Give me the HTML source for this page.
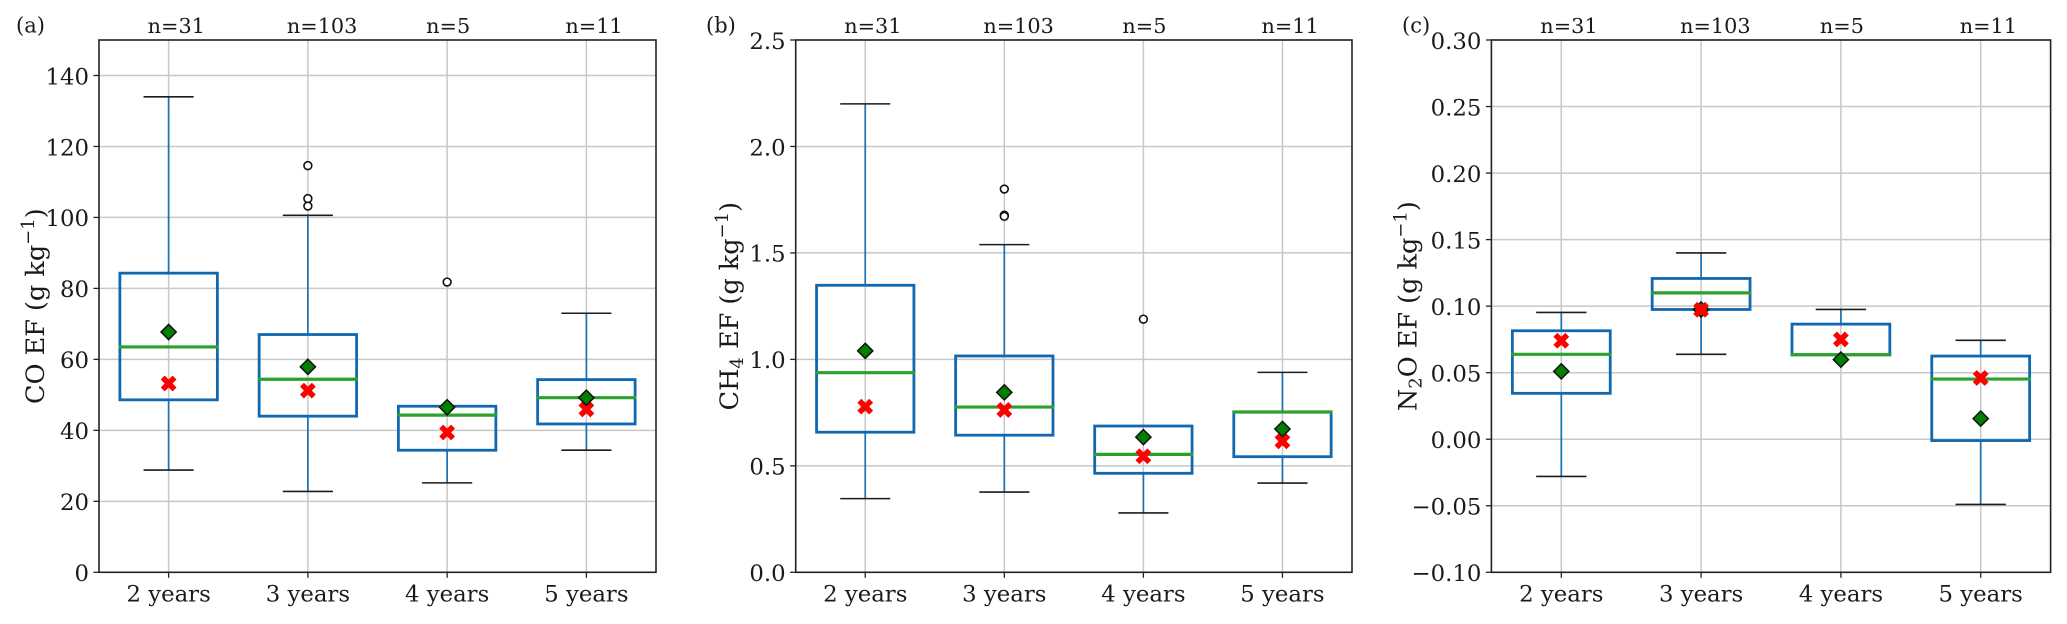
<!DOCTYPE html>
<html lang="en">
<head>
<meta charset="utf-8">
<title>CO, CH4 and N2O emission factors by fire return interval</title>
<style>
html,body{margin:0;padding:0;background:#fff;}
#figure{display:block;width:2067px;height:624px;}
text{font-family:"DejaVu Serif","Liberation Serif",serif;fill:#1a1a1a;}
</style>
</head>
<body>
<svg id="figure" xmlns="http://www.w3.org/2000/svg" width="2067" height="624" viewBox="0 0 2067 624"></svg>
<script>
const categories = ['2 years', '3 years', '4 years', '5 years'];
const sampleCounts = ['n=31', 'n=103', 'n=5', 'n=11'];

const coTicks = [0, 20, 40, 60, 80, 100, 120, 140];
const coTickLabels = ['0', '20', '40', '60', '80', '100', '120', '140'];
const coCapHigh = [134, 100.6, 46.7, 73.0];
const coQ3 = [84.3, 67.0, 46.8, 54.3];
const coMedian = [63.5, 54.4, 44.3, 49.2];
const coQ1 = [48.6, 44.0, 34.4, 41.8];
const coCapLow = [28.8, 22.8, 25.2, 34.4];
const coDiamond = [67.7, 57.9, 46.5, 49.2];
const coCross = [53.2, 51.2, 39.4, 45.9];
const coOutliers = [[], [114.6, 105.3, 103.2], [81.8], []];

const ch4Ticks = [0, 0.5, 1, 1.5, 2, 2.5];
const ch4TickLabels = ['0.0', '0.5', '1.0', '1.5', '2.0', '2.5'];
const ch4CapHigh = [2.2, 1.539, 0.687, 0.939];
const ch4Q3 = [1.348, 1.016, 0.687, 0.753];
const ch4Median = [0.9375, 0.776, 0.554, 0.753];
const ch4Q1 = [0.658, 0.644, 0.465, 0.543];
const ch4CapLow = [0.346, 0.377, 0.279, 0.419];
const ch4Diamond = [1.04, 0.845, 0.635, 0.673];
const ch4Cross = [0.778, 0.7625, 0.545, 0.615];
const ch4Outliers = [[], [1.80, 1.677, 1.672], [1.189], []];

const n2oTicks = [-0.1, -0.05, 0, 0.05, 0.1, 0.15, 0.2, 0.25, 0.3];
const n2oTickLabels = ['\u22120.10', '\u22120.05', '0.00', '0.05', '0.10', '0.15', '0.20', '0.25', '0.30'];
const n2oCapHigh = [0.0953, 0.14, 0.0975, 0.0743];
const n2oQ3 = [0.0815, 0.1208, 0.0865, 0.0625];
const n2oMedian = [0.0638, 0.11, 0.0635, 0.0452];
const n2oQ1 = [0.0345, 0.0975, 0.0635, -0.001];
const n2oCapLow = [-0.028, 0.0638, 0.0635, -0.049];
const n2oDiamond = [0.051, 0.0975, 0.0598, 0.0155];
const n2oCross = [0.074, 0.0973, 0.075, 0.046];
const n2oOutliers = [[], [], [], []];

const NS = 'http://www.w3.org/2000/svg';
const svg = document.getElementById('figure');

function mk(tag, attrs, parent) {
  const el = document.createElementNS(NS, tag);
  for (const k in attrs) el.setAttribute(k, attrs[k]);
  parent.appendChild(el);
  return el;
}

function drawPanel(p) {
  const g = mk('g', {}, svg);
  
  

  const yAxis = v => p.bottom - (v - p.yMin) / (p.yMax - p.yMin) * (p.bottom - p.top);
  const xAxis = i => p.left + (i + 0.5) / categories.length * (p.right - p.left);

  /* grid */
  p.ticks.forEach((t, i) => {
    const el = mk('line', {x1: p.left, x2: p.right, y1: yAxis(t), y2: yAxis(t), stroke: '#c8c8c8', 'stroke-width': 1.5}, g);
    
    
  });
  categories.forEach((c, i) => {
    const el = mk('line', {x1: xAxis(i), x2: xAxis(i), y1: p.top, y2: p.bottom, stroke: '#c8c8c8', 'stroke-width': 1.5}, g);
    
    
  });

  /* boxes */
  categories.forEach((c, i) => {
    const slug = p.id + '-' + c.replace(' ', '-');
    const x = xAxis(i);
    const unit = (p.right - p.left) / categories.length;
    const boxW = unit * 0.7, capW = unit * 0.36;

    const wu = mk('line', {x1: x, x2: x, y1: yAxis(p.q3[i]), y2: yAxis(p.capHigh[i]), stroke: '#1a72b6', 'stroke-width': 1.7}, g);
    
    

    const wl = mk('line', {x1: x, x2: x, y1: yAxis(p.q1[i]), y2: yAxis(p.capLow[i]), stroke: '#1a72b6', 'stroke-width': 1.7}, g);
    
    

    const cu = mk('line', {x1: x - capW / 2, x2: x + capW / 2, y1: yAxis(p.capHigh[i]), y2: yAxis(p.capHigh[i]), stroke: '#1c1c1c', 'stroke-width': 1.6}, g);
    
    

    const cl = mk('line', {x1: x - capW / 2, x2: x + capW / 2, y1: yAxis(p.capLow[i]), y2: yAxis(p.capLow[i]), stroke: '#1c1c1c', 'stroke-width': 1.6}, g);
    
    

    const box = mk('rect', {x: x - boxW / 2, y: yAxis(p.q3[i]), width: boxW, height: yAxis(p.q1[i]) - yAxis(p.q3[i]), fill: 'none', stroke: '#1068b0', 'stroke-width': 2.8}, g);
    
    

    const med = mk('line', {x1: x - boxW / 2 - 1.4, x2: x + boxW / 2 + 1.4, y1: yAxis(p.median[i]), y2: yAxis(p.median[i]), stroke: '#2ca02c', 'stroke-width': 3.2}, g);
    
    

    p.outliers[i].forEach(v => {
      const o = mk('circle', {cx: x, cy: yAxis(v), r: 3.9, fill: '#fff', stroke: '#111', 'stroke-width': 1.6}, g);
      
      
    });

    const cy = yAxis(p.cross[i]), dy = yAxis(p.diamond[i]), s = 7.9, d = 7.6;
    const crossUnit = [[-1,-.5],[-.5,-1],[0,-.5],[.5,-1],[1,-.5],[.5,0],[1,.5],[.5,1],[0,.5],[-.5,1],[-1,.5],[-.5,0]];
    const drawCross = () => {
      const m = mk('polygon', {points: crossUnit.map(u => (x + u[0] * s) + ',' + (cy + u[1] * s)).join(' '), fill: '#ff0000'}, g);
      
      
    };
    const drawDiamond = () => {
      const m = mk('polygon', {points: [[0,-d],[d,0],[0,d],[-d,0]].map(u => (x + u[0]) + ',' + (dy + u[1])).join(' '), fill: '#008000', stroke: '#111', 'stroke-width': 1.5}, g);
      
      
    };
    if (p.crossOnTop) { drawDiamond(); drawCross(); } else { drawCross(); drawDiamond(); }
  });

  /* spines */
  const frame = mk('rect', {x: p.left, y: p.top, width: p.right - p.left, height: p.bottom - p.top, fill: 'none', stroke: '#222', 'stroke-width': 1.6}, g);
  
  

  /* y ticks */
  p.ticks.forEach((t, i) => {
    const tk = mk('line', {x1: p.left - 5.5, x2: p.left, y1: yAxis(t), y2: yAxis(t), stroke: '#222', 'stroke-width': 1.3}, g);
    
    

    const lb = mk('text', {x: p.left - 10, y: yAxis(t) + 8.8, 'text-anchor': 'end', 'font-size': 22.8}, g);
    lb.textContent = p.tickLabels[i];
    
    
  });

  /* x ticks, count labels */
  categories.forEach((c, i) => {
    const slug = p.id + '-' + c.replace(' ', '-');
    const x = xAxis(i);
    const tk = mk('line', {x1: x, x2: x, y1: p.bottom, y2: p.bottom + 5.5, stroke: '#222', 'stroke-width': 1.3}, g);
    
    

    const lb = mk('text', {x: x, y: 601.5, 'text-anchor': 'middle', 'font-size': 22.8}, g);
    lb.textContent = c;
    
    

    const n = mk('text', {x: x - 21, y: 33, 'font-size': 20.8}, g);
    n.textContent = sampleCounts[i];
    
    
  });

  /* panel letter */
  const letter = mk('text', {x: p.letterX, y: 32.5, 'font-size': 21}, g);
  letter.textContent = p.letter;
  
  

  /* y axis title */
  const mid = (p.top + p.bottom) / 2;
  const title = mk('text', {transform: 'translate(' + p.titleX + ',' + mid + ') rotate(-90)', 'text-anchor': 'middle', 'font-size': 25.5}, g);
  
  
  p.title.forEach(part => {
    const t = mk('tspan', {}, title);
    t.textContent = part.s;
    if (part.k === 'sub') { t.setAttribute('font-size', 18); t.setAttribute('dy', 5); }
    if (part.k === 'sup') { t.setAttribute('font-size', 18); t.setAttribute('dy', -10); }
    if (part.k === 'subEnd') { t.setAttribute('dy', -5); }
    if (part.k === 'supEnd') { t.setAttribute('dy', 10); }
  });
}

drawPanel({
  id: 'co', letter: '(a)', letterX: 16, titleX: 44,
  left: 99, right: 656, top: 40, bottom: 572.3, yMin: 0, yMax: 150,
  ticks: coTicks, tickLabels: coTickLabels,
  capHigh: coCapHigh, q3: coQ3, median: coMedian, q1: coQ1, capLow: coCapLow,
  diamond: coDiamond, cross: coCross, outliers: coOutliers, crossOnTop: false,
  title: [{s: 'CO EF (g kg'}, {s: '\u22121', k: 'sup'}, {s: ')', k: 'supEnd'}]
});
drawPanel({
  id: 'ch4', letter: '(b)', letterX: 706, titleX: 738,
  left: 795.7, right: 1352, top: 40, bottom: 572.3, yMin: 0, yMax: 2.5,
  ticks: ch4Ticks, tickLabels: ch4TickLabels,
  capHigh: ch4CapHigh, q3: ch4Q3, median: ch4Median, q1: ch4Q1, capLow: ch4CapLow,
  diamond: ch4Diamond, cross: ch4Cross, outliers: ch4Outliers, crossOnTop: false,
  title: [{s: 'CH'}, {s: '4', k: 'sub'}, {s: ' EF (g kg', k: 'subEnd'}, {s: '\u22121', k: 'sup'}, {s: ')', k: 'supEnd'}]
});
drawPanel({
  id: 'n2o', letter: '(c)', letterX: 1402, titleX: 1416.7,
  left: 1491.4, right: 2050.6, top: 40, bottom: 572.3, yMin: -0.1, yMax: 0.3,
  ticks: n2oTicks, tickLabels: n2oTickLabels,
  capHigh: n2oCapHigh, q3: n2oQ3, median: n2oMedian, q1: n2oQ1, capLow: n2oCapLow,
  diamond: n2oDiamond, cross: n2oCross, outliers: n2oOutliers, crossOnTop: true,
  title: [{s: 'N'}, {s: '2', k: 'sub'}, {s: 'O EF (g kg', k: 'subEnd'}, {s: '\u22121', k: 'sup'}, {s: ')', k: 'supEnd'}]
});
</script>
</body>
</html>
